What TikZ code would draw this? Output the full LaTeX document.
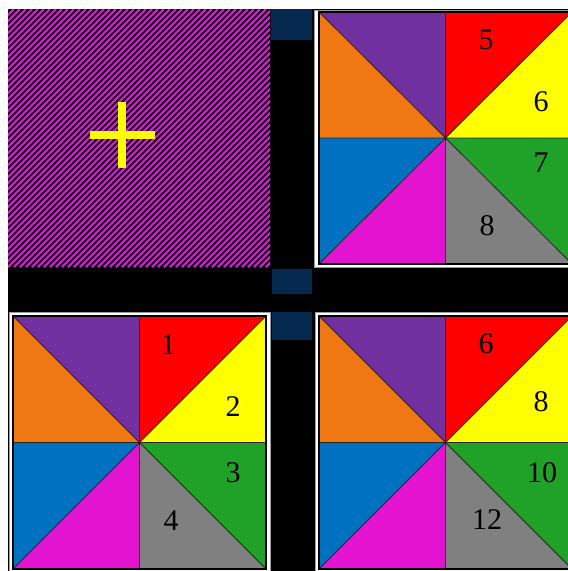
\documentclass[tikz,border=0pt]{standalone}
\usepackage{fontspec}
\setmainfont{Liberation Serif}
\definecolor{cPurple}{HTML}{7030A0}
\definecolor{cOrange}{HTML}{F07812}
\definecolor{cRed}{HTML}{FF0000}
\definecolor{cYellow}{HTML}{FFFF00}
\definecolor{cGreen}{HTML}{20A228}
\definecolor{cGray}{HTML}{808080}
\definecolor{cBlue}{HTML}{0070C0}
\definecolor{cMagenta}{HTML}{E314CF}
\definecolor{cHatch}{HTML}{E010E0}
\definecolor{cNavy}{HTML}{062A4F}
\definecolor{cFrame}{HTML}{9A9A9A}
\tikzset{
  tri/.style={draw=black!85, line width=0.8pt, line join=round},
  numlabel/.style={font=\fontsize{30}{32}\selectfont, text=black, inner sep=0pt},
  framebox/.style={fill=white, draw=cFrame, line width=1pt},
  navybox/.style={fill=cNavy},
}
\newcommand\mypinwheel[4]{%
  \pgfmathsetmacro\mx{(#1+#3)/2}%
  \pgfmathsetmacro\my{(#2+#4)/2}%
  \fill[cPurple]  (#1,#2) -- (\mx,#2) -- (\mx,\my) -- cycle;
  \fill[cOrange]  (#1,#2) -- (#1,\my) -- (\mx,\my) -- cycle;
  \fill[cRed]     (\mx,#2) -- (#3,#2) -- (\mx,\my) -- cycle;
  \fill[cYellow]  (#3,#2) -- (#3,\my) -- (\mx,\my) -- cycle;
  \fill[cGreen]   (#3,\my) -- (#3,#4) -- (\mx,\my) -- cycle;
  \fill[cGray]    (\mx,#4) -- (#3,#4) -- (\mx,\my) -- cycle;
  \fill[cBlue]    (#1,\my) -- (#1,#4) -- (\mx,\my) -- cycle;
  \fill[cMagenta] (\mx,#4) -- (#1,#4) -- (\mx,\my) -- cycle;
  \draw[tri] (#1,#2) -- (#3,#4) (#3,#2) -- (#1,#4)
             (\mx,#2) -- (\mx,#4) (#1,\my) -- (#3,\my);
  \draw[black, line width=1.3pt] (#1,#2) rectangle (#3,#4);
}
\begin{document}
\begin{tikzpicture}[x=1pt,y=-1pt]
\useasboundingbox (0,0) rectangle (568,571);
\clip (0,0) rectangle (568,571);
\fill[white] (0,0) rectangle (568,571);
% black background
\fill[black] (8,9) rectangle (568,571);
% hatched top-left cell
\begin{scope}
  \clip (8,9) rectangle (270,267);
  \foreach \k in {-50,...,50} {
    \draw[cHatch, line width=2.3pt] ({8+6*\k},267) -- ({8+6*\k+258},9);
  }
\end{scope}
% yellow plus
\draw[cYellow, line width=8pt] (90,135) -- (155,135);
\draw[cYellow, line width=8pt] (122,102) -- (122,168);
% navy rectangles
\fill[navybox] (271,9) rectangle (312,40);
\fill[navybox] (272,269) rectangle (312,294);
\fill[navybox] (272,312) rectangle (312,340);
% panel frames
\draw[framebox] (314.5,10) rectangle (572,267);
\draw[framebox] (9,312) rectangle (270,572);
\draw[framebox] (315,312) rectangle (572,572);
% pinwheels
\mypinwheel{319}{12}{572}{264}
\mypinwheel{13}{316}{266}{569}
\mypinwheel{319}{316}{572}{569}
% labels top-right
\node[numlabel] (n5a) at (486,40) {5};
\node[numlabel] (n6a) at (541,102) {6};
\node[numlabel] (n7a) at (541,163) {7};
\node[numlabel] (n8a) at (487,226) {8};
% labels bottom-left
\node[numlabel] (n1b) at (168,345) {1};
\node[numlabel] (n2b) at (233,407) {2};
\node[numlabel] (n3b) at (233,473) {3};
\node[numlabel] (n4b) at (171,521) {4};
% labels bottom-right
\node[numlabel] (n6c) at (486,344) {6};
\node[numlabel] (n8c) at (541,402) {8};
\node[numlabel] (n10c) at (542,473) {10};
\node[numlabel] (n12c) at (487,520) {12};
\end{tikzpicture}
\end{document}
